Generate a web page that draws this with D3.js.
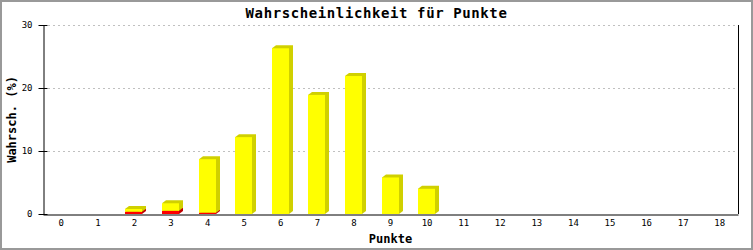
<!DOCTYPE html>
<html>
<head>
<meta charset="utf-8">
<script src="https://cdn.jsdelivr.net/npm/d3@7"></script>
<style>
  body { margin: 0; background: #fff; }
  svg { display: block; }
  text { font-family: "DejaVu Sans Mono", monospace; }
</style>
</head>
<body>
<div id="chart"></div>
<script>
// Punkte 0..18, zwei gestapelte Serien
const punkte = d3.range(0, 19).map(String);
const serieRot = [0, 0, 0.35, 0.5, 0.2, 0, 0, 0, 0, 0, 0, 0, 0, 0, 0, 0, 0, 0, 0];
const serieGelb = [0, 0, 0.45, 1.2, 8.5, 12.2, 26.3, 18.9, 21.9, 5.8, 4.0, 0, 0, 0, 0, 0, 0, 0, 0];
const yTicks = [0, 10, 20, 30];

const W = 753, H = 250;
const margin = { top: 25, right: 15, bottom: 36, left: 43 };

const svg = d3.select("#chart").append("svg")
  .attr("width", W)
  .attr("height", H);

// Rahmen
svg.append("rect")
  .attr("x", 1).attr("y", 1)
  .attr("width", W - 2).attr("height", H - 2)
  .attr("fill", "#fff")
  .attr("stroke", "#999").attr("stroke-width", 2);

const x = d3.scaleBand()
  .domain(punkte)
  .range([margin.left, W - margin.right])
  .padding(0);

const y = d3.scaleLinear()
  .domain([0, 30])
  .range([H - margin.bottom, margin.top]);

// Gitterlinien
svg.append("g")
  .selectAll("line")
  .data(yTicks.filter(d => d > 0))
  .join("line")
  .attr("x1", margin.left + 5).attr("x2", W - margin.right)
  .attr("y1", d => y(d) + 0.5).attr("y2", d => y(d) + 0.5)
  .attr("stroke", "#c0c0c0")
  .attr("stroke-dasharray", "2,3");

// Balken (gestapelt, mit Schatten)
const bw = 17, dx = 4, dy = 3;
const stapel = [
  { werte: serieRot, farbe: "#ff0000", schatten: "#c00000" },
  { werte: serieGelb, farbe: "#ffff00", schatten: "#d0d000" }
];
const bars = svg.append("g");
punkte.forEach((p, i) => {
  let acc = 0;
  const cx = x(p) + x.bandwidth() / 2;
  const x0 = Math.round(cx - 9), x1 = x0 + bw;
  stapel.forEach(s => {
    const v = s.werte[i];
    if (v <= 0) return;
    const yb = y(acc), yt = y(acc + v);
    acc += v;
    bars.append("polygon")
      .attr("points", [[x0, yt], [x0 + dx, yt - dy], [x1 + dx, yt - dy], [x1 + dx, yb - dy], [x1, yb]].map(q => q.join(",")).join(" "))
      .attr("fill", s.schatten);
    bars.append("rect")
      .attr("x", x0).attr("y", yt)
      .attr("width", bw).attr("height", yb - yt)
      .attr("fill", s.farbe);
  });
});

// Achsen
const yAxis = d3.axisLeft(y).tickValues(yTicks).tickSizeInner(5).tickSizeOuter(0).tickPadding(6);
const gy = svg.append("g")
  .attr("transform", `translate(${margin.left + 0.5},0)`)
  .call(yAxis);
gy.select(".domain").attr("stroke", "#000");
gy.selectAll(".tick line").attr("x1", -5).attr("x2", 4).attr("stroke", "#000");
gy.selectAll(".tick text").attr("font-size", 9).attr("font-family", "DejaVu Sans Mono").attr("fill", "#000");

const xAxis = d3.axisBottom(x).tickSize(0).tickPadding(5);
const gx = svg.append("g")
  .attr("transform", `translate(0,${H - margin.bottom + 0.5})`)
  .call(xAxis);
gx.select(".domain").attr("stroke", "#000");
gx.selectAll(".tick text").attr("font-size", 9).attr("font-family", "DejaVu Sans Mono").attr("fill", "#000");

// rechte Rahmenlinie
svg.append("line")
  .attr("x1", W - margin.right + 0.5).attr("x2", W - margin.right + 0.5)
  .attr("y1", margin.top).attr("y2", H - margin.bottom)
  .attr("stroke", "#000");

// Titel
svg.append("text")
  .attr("x", W / 2).attr("y", 18)
  .attr("text-anchor", "middle")
  .attr("font-size", 14).attr("font-weight", "bold")
  .attr("letter-spacing", 0.6)
  .text("Wahrscheinlichkeit für Punkte");

svg.append("text")
  .attr("x", (margin.left + W - margin.right) / 2).attr("y", 243)
  .attr("text-anchor", "middle")
  .attr("font-size", 12).attr("font-weight", "bold")
  .text("Punkte");

svg.append("text")
  .attr("transform", `translate(16,${(margin.top + H - margin.bottom) / 2}) rotate(-90)`)
  .attr("text-anchor", "middle")
  .attr("font-size", 12).attr("font-weight", "bold")
  .text("Wahrsch. (%)");
</script>
</body>
</html>
